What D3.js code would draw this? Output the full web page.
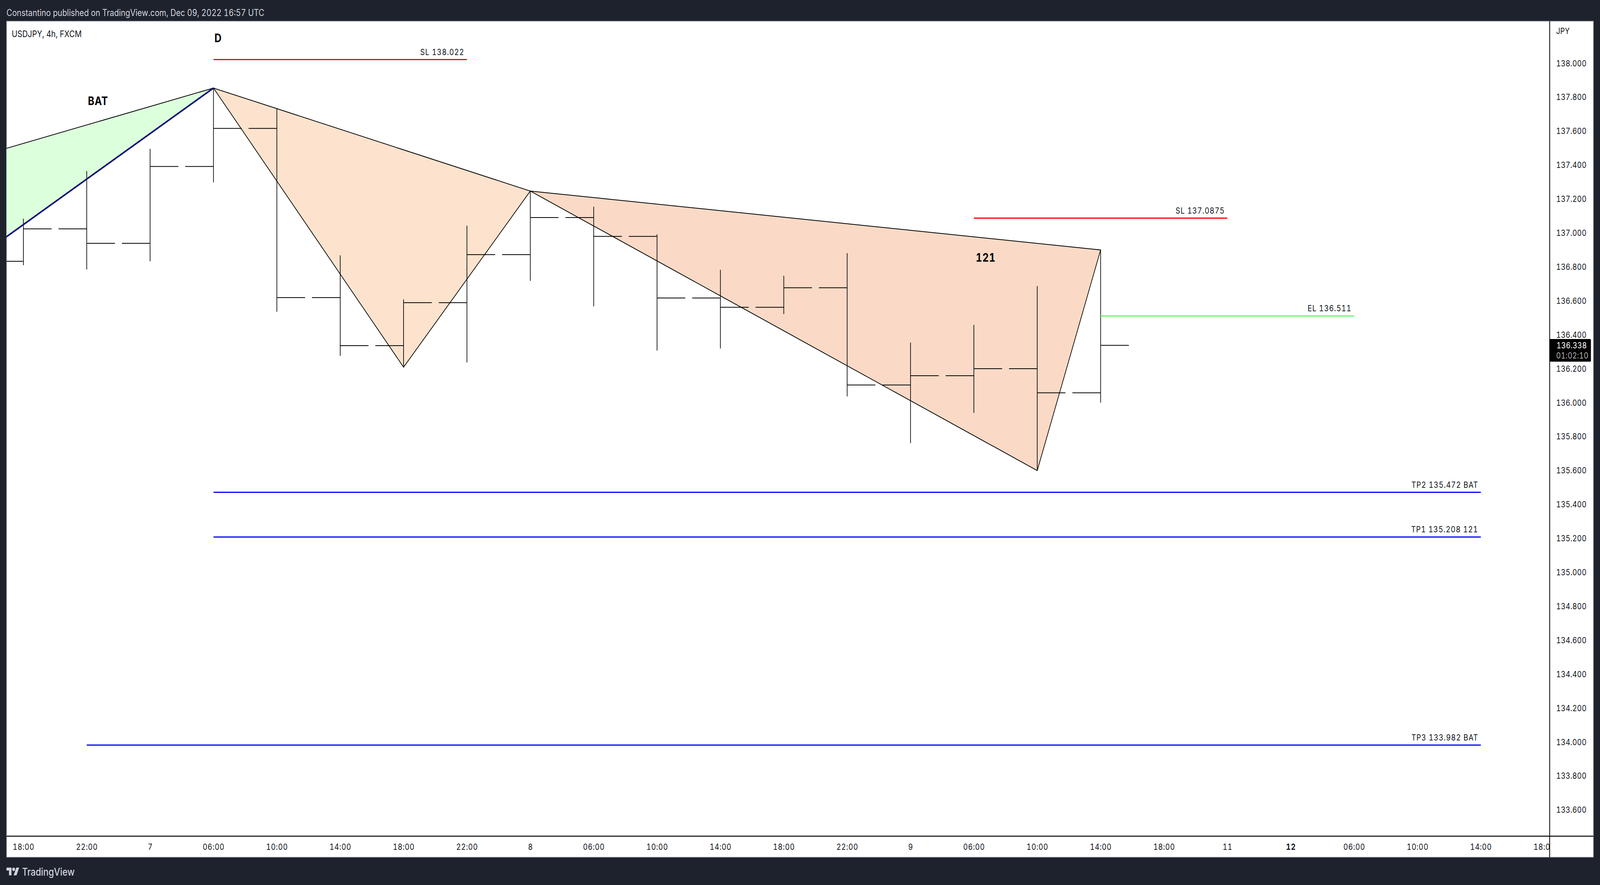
<!DOCTYPE html>
<html>
<head>
<meta charset="utf-8">
<title>USDJPY, 4h, FXCM</title>
<script src="https://cdn.jsdelivr.net/npm/d3@7/dist/d3.min.js"></script>
<style>
  html, body { margin: 0; padding: 0; background: #1e222d; overflow: hidden; }
  svg { display: block; width: 100vw; height: 100vh; font-family: Inter, "Noto Sans", sans-serif; font-variant-numeric: tabular-nums; }
</style>
</head>
<body>
<svg id="chart"></svg>
<script>
// time axis, one label per 4h bar
const timeLabels = ["18:00", "22:00", "7", "06:00", "10:00", "14:00", "18:00", "22:00", "8", "06:00", "10:00", "14:00", "18:00", "22:00", "9", "06:00", "10:00", "14:00", "18:00", "11", "12", "06:00", "10:00", "14:00", "18:00"];
const boldLabels = ["12"];

const priceTicks = [138.0, 137.8, 137.6, 137.4, 137.2, 137.0, 136.8, 136.6, 136.4, 136.2, 136.0, 135.8, 135.6, 135.4, 135.2, 135.0, 134.8, 134.6, 134.4, 134.2, 134.0, 133.8, 133.6];

// OHLC bars
const opens = [136.833, 137.024, 136.939, 137.392, 137.616, 136.619, 136.336, 136.589, 136.872, 137.091, 136.980, 136.617, 136.562, 136.677, 136.104, 136.159, 136.200, 136.058];
const highs = [137.084, 137.365, 137.496, 137.854, 137.733, 136.868, 136.608, 137.043, 137.247, 137.155, 136.992, 136.783, 136.748, 136.881, 136.354, 136.458, 136.687, 136.900];
const lows = [136.810, 136.785, 136.833, 137.298, 136.536, 136.276, 136.209, 136.237, 136.718, 136.568, 136.307, 136.319, 136.522, 136.037, 135.761, 135.940, 135.600, 136.000];
const closes = [137.024, 136.939, 137.392, 137.616, 136.619, 136.336, 136.589, 136.872, 137.091, 136.980, 136.617, 136.562, 136.677, 136.104, 136.159, 136.200, 136.058, 136.338];

// harmonic pattern legs: [bar index, price]
const batPoints = [[-1, 137.419], [3, 137.854], [-1, 136.781]];
const firstLegPoints = [[3, 137.854], [6, 136.209], [8, 137.247]];
const secondLegPoints = [[8, 137.247], [16, 135.600], [17, 136.900]];

// horizontal levels
const levelNames = ["SL 138.022", "SL 137.0875", "EL 136.511", "TP2 135.472 BAT", "TP1 135.208 121", "TP3 133.982 BAT"];
const levelPrices = [138.022, 137.0875, 136.511, 135.472, 135.208, 133.982];
const levelFrom = [3, 15, 17, 3, 3, 1];
const levelTo = [7, 19, 21, 23, 23, 23];

const lastPrice = "136.338";
const countdown = "01:02:10";

// layout is in the reference's pixels, the viewBox fits it to the window
const width = 4928;
const height = 2266;
const plot = { left: 20, top: 54, right: 4773, bottom: 2141, outerRight: 4908, outerBottom: 2195 };
const levelColors = ["#ff0000", "#ff0000", "#66f566", "#0000ff", "#0000ff", "#0000ff"];
const textColor = "#131722";

const svg = d3.select("#chart")
  .attr("viewBox", `0 0 ${width} ${height}`)
  .attr("preserveAspectRatio", "none");

const x = d3.scaleLinear().domain([0, 24]).range([72, 72 + 195.17 * 24]);
const y = d3.scaleLinear().domain([138, 133.6]).range([162, 162 + 4.4 * 434.5]);
const tickLength = 87;

// frame
svg.append("rect").attr("width", width).attr("height", height).attr("fill", "#1e222d");
svg.append("rect")
  .attr("x", plot.left).attr("y", plot.top)
  .attr("width", plot.outerRight - plot.left).attr("height", plot.outerBottom - plot.top)
  .attr("fill", "#fff").attr("stroke", "#787b86").attr("stroke-width", 1.5);

const defs = svg.append("defs");
defs.append("clipPath").attr("id", "plot-clip").append("rect")
  .attr("x", plot.left).attr("y", plot.top)
  .attr("width", plot.right - plot.left).attr("height", plot.bottom - plot.top);
defs.append("clipPath").attr("id", "time-clip").append("rect")
  .attr("x", plot.left).attr("y", plot.bottom)
  .attr("width", plot.right - plot.left).attr("height", plot.outerBottom - plot.bottom);

const pane = svg.append("g").attr("clip-path", "url(#plot-clip)");
const toPath = (points) => d3.line().x((p) => x(p[0])).y((p) => y(p[1]))(points);

// pattern fills
pane.append("path").attr("d", toPath(batPoints) + "Z").attr("fill", "#dcffdc");
pane.append("path").attr("d", toPath(firstLegPoints) + "Z").attr("fill", "#fde3cd");
pane.append("path").attr("d", toPath(secondLegPoints) + "Z").attr("fill", "#fadac6");

// OHLC bars
const bars = pane.selectAll(".bar").data(opens).enter().append("g").attr("class", "bar");
bars.append("line")
  .attr("x1", (d, i) => x(i)).attr("x2", (d, i) => x(i))
  .attr("y1", (d, i) => y(highs[i])).attr("y2", (d, i) => y(lows[i]))
  .attr("stroke", "#000").attr("stroke-width", 2);
bars.append("line")
  .attr("x1", (d, i) => x(i) - tickLength).attr("x2", (d, i) => x(i))
  .attr("y1", (d) => y(d)).attr("y2", (d) => y(d))
  .attr("stroke", "#000").attr("stroke-width", 2);
bars.append("line")
  .attr("x1", (d, i) => x(i)).attr("x2", (d, i) => x(i) + tickLength)
  .attr("y1", (d, i) => y(closes[i])).attr("y2", (d, i) => y(closes[i]))
  .attr("stroke", "#000").attr("stroke-width", 2);

// pattern outlines, the lower BAT leg is a blue line over a black one
pane.append("path").attr("d", toPath(batPoints.slice(0, 2))).attr("fill", "none").attr("stroke", "#000").attr("stroke-width", 2);
pane.append("path").attr("d", toPath(batPoints.slice(1))).attr("fill", "none").attr("stroke", "#000").attr("stroke-width", 4);
pane.append("path").attr("d", toPath(batPoints.slice(1))).attr("fill", "none").attr("stroke", "#0000c8").attr("stroke-width", 2.2);
pane.append("path").attr("d", toPath(firstLegPoints) + "Z").attr("fill", "none").attr("stroke", "#000").attr("stroke-width", 2);
pane.append("path").attr("d", toPath(secondLegPoints) + "Z").attr("fill", "none").attr("stroke", "#000").attr("stroke-width", 2);

// levels and their labels
levelNames.forEach((name, i) => {
  pane.append("line")
    .attr("x1", x(levelFrom[i])).attr("x2", x(levelTo[i]))
    .attr("y1", y(levelPrices[i])).attr("y2", y(levelPrices[i]))
    .attr("stroke", levelColors[i]).attr("stroke-width", 3);
  pane.append("text")
    .attr("x", x(levelTo[i]) - 8).attr("y", y(levelPrices[i]) - 20)
    .attr("text-anchor", "end").attr("dominant-baseline", "central")
    .attr("fill", textColor).style("font-size", "22px").style("letter-spacing", "1.2px")
    .text(name);
});

// pattern names
const patternLabel = (text, px, py) => pane.append("text")
  .attr("x", px).attr("y", py)
  .attr("text-anchor", "middle").attr("dominant-baseline", "central")
  .attr("fill", "#000").style("font-size", "30px").style("font-weight", "700").style("letter-spacing", "1px")
  .text(text);
patternLabel("D", 672, 97);
patternLabel("BAT", 302, 258);
patternLabel("121", 3036, 659);

// time axis, clipped by an outer group so the clip stays in page coordinates
const timeAxis = svg.append("g").attr("clip-path", "url(#time-clip)").append("g")
  .attr("transform", `translate(0,${plot.bottom})`)
  .call(d3.axisBottom(x).tickValues(d3.range(timeLabels.length)).tickSize(0).tickPadding(0).tickFormat((d) => timeLabels[d]));
timeAxis.select(".domain").remove();
timeAxis.selectAll("text")
  .attr("y", 27).attr("dy", "0.35em")
  .attr("fill", textColor)
  .style("font-family", "Inter, sans-serif").style("font-size", "22px").style("letter-spacing", "0.8px")
  .style("font-weight", (d) => (boldLabels.includes(timeLabels[d]) ? "700" : "400"));

// price axis
const priceAxis = svg.append("g")
  .attr("transform", `translate(${plot.right},0)`)
  .call(d3.axisRight(y).tickValues(priceTicks).tickSize(0).tickPadding(20).tickFormat(d3.format(".3f")));
priceAxis.select(".domain").remove();
priceAxis.selectAll("text")
  .attr("fill", textColor)
  .style("font-family", "Inter, sans-serif").style("font-size", "22px").style("letter-spacing", "0.3px");

// axis borders
svg.append("line").attr("x1", plot.left).attr("x2", plot.outerRight).attr("y1", plot.bottom).attr("y2", plot.bottom).attr("stroke", "#000").attr("stroke-width", 2.4);
svg.append("line").attr("x1", plot.right).attr("x2", plot.right).attr("y1", plot.top).attr("y2", plot.outerBottom).attr("stroke", "#000").attr("stroke-width", 2.4);

svg.append("text").attr("x", 4793).attr("y", 79).attr("dominant-baseline", "central")
  .attr("fill", textColor).style("font-size", "22px").text("JPY");

// last price tag
svg.append("rect").attr("x", plot.right).attr("y", 868).attr("width", 127).attr("height", 58).attr("rx", 3).attr("fill", "#000");
svg.append("text").attr("x", 4794).attr("y", 884).attr("dominant-baseline", "central")
  .attr("fill", "#fff").style("font-size", "22px").style("letter-spacing", "0.3px").text(lastPrice);
svg.append("text").attr("x", 4793).attr("y", 910).attr("dominant-baseline", "central")
  .attr("fill", "#b2b2b2").style("font-size", "22px").style("letter-spacing", "0.3px").text(countdown);

// header, legend, footer
svg.append("text").attr("x", 20).attr("y", 32).attr("dominant-baseline", "central")
  .attr("fill", "#d1d4dc").style("font-size", "24px")
  .text("Constantino published on TradingView.com, Dec 09, 2022 16:57 UTC");
svg.append("text").attr("x", 36).attr("y", 86).attr("dominant-baseline", "central")
  .attr("fill", textColor).style("font-size", "23.5px").text("USDJPY, 4h, FXCM");

const logo = svg.append("g").attr("transform", "translate(20,2217) scale(1.1)").attr("fill", "#d1d4dc");
logo.append("path").attr("d", "M14 22H7V11H0V4h14v18zM28 22h-8l7.5-18h8L28 22z");
logo.append("circle").attr("cx", 20).attr("cy", 8).attr("r", 4);
svg.append("text").attr("x", 68).attr("y", 2232).attr("dominant-baseline", "central")
  .attr("fill", "#d1d4dc").style("font-size", "27px").style("font-weight", "500").text("TradingView");
</script>
</body>
</html>
